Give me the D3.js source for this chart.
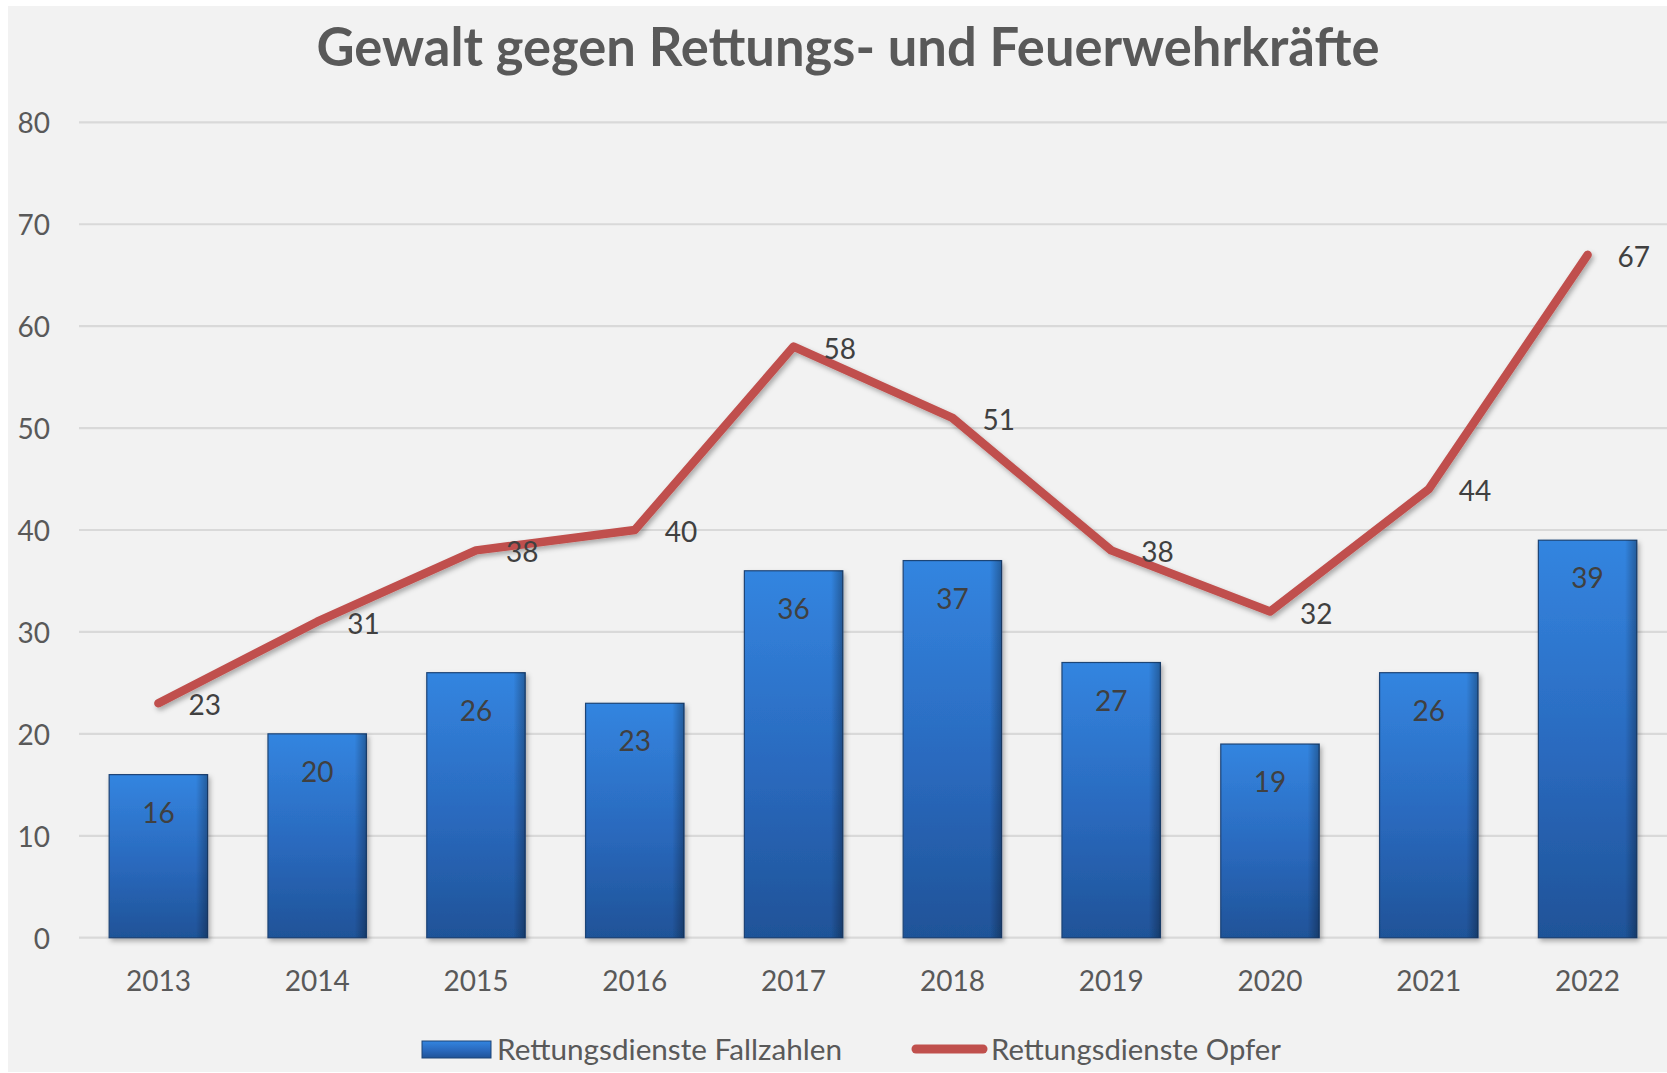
<!DOCTYPE html>
<html>
<head>
<meta charset="utf-8">
<script src="https://cdn.jsdelivr.net/npm/d3@7"></script>
<style>
  body { margin: 0; background: #fff; }
  svg text { font-family: Lato, "Open Sans", sans-serif; }
</style>
</head>
<body>
<div id="vis"></div>
<script>
// Data
var years = ["2013", "2014", "2015", "2016", "2017", "2018", "2019", "2020", "2021", "2022"];
var fallzahlen = [16, 20, 26, 23, 36, 37, 27, 19, 26, 39];
var opfer = [23, 31, 38, 40, 58, 51, 38, 32, 44, 67];
var yTicks = [0, 10, 20, 30, 40, 50, 60, 70, 80];
var seriesNames = ["Rettungsdienste Fallzahlen", "Rettungsdienste Opfer"];
var chartTitle = "Gewalt gegen Rettungs- und Feuerwehrkräfte";

let svgWidth = 1667, svgHeight = 1073;

let svg = d3.select("#vis").append("svg")
  .attr("width", svgWidth)
  .attr("height", svgHeight);

let defs = svg.append("defs");

// bar gradient (lighter top, darker bottom)
let grad = defs.append("linearGradient")
  .attr("id", "barGrad")
  .attr("x1", 0).attr("y1", 0).attr("x2", 0).attr("y2", 1);
grad.append("stop").attr("offset", "0%").attr("stop-color", "#3385e0");
grad.append("stop").attr("offset", "55%").attr("stop-color", "#2a69bd");
grad.append("stop").attr("offset", "100%").attr("stop-color", "#1f5398");

// side shading for the bevel look
let sideGrad = defs.append("linearGradient")
  .attr("id", "sideGrad")
  .attr("x1", 0).attr("y1", 0).attr("x2", 1).attr("y2", 0);
sideGrad.append("stop").attr("offset", "0%").attr("stop-color", "#000").attr("stop-opacity", 0);
sideGrad.append("stop").attr("offset", "88%").attr("stop-color", "#000").attr("stop-opacity", 0);
sideGrad.append("stop").attr("offset", "100%").attr("stop-color", "#000").attr("stop-opacity", 0.3);

let shadow = defs.append("filter").attr("id", "shadow")
  .attr("x", "-10%").attr("y", "-10%").attr("width", "130%").attr("height", "130%");
shadow.append("feDropShadow")
  .attr("dx", 2).attr("dy", 3).attr("stdDeviation", 2.5)
  .attr("flood-color", "#000").attr("flood-opacity", 0.3);

// background
svg.append("rect").attr("width", svgWidth).attr("height", svgHeight).attr("fill", "#fff");
svg.append("rect")
  .attr("x", 8).attr("y", 6)
  .attr("width", svgWidth - 8).attr("height", svgHeight - 7)
  .attr("fill", "#f2f2f2");

// scales
let x = d3.scaleBand()
  .domain(years)
  .range([79, 1667])
  .paddingInner(0.38)
  .paddingOuter(0.19);

let y = d3.scaleLinear()
  .domain([0, 80])
  .range([937.7, 122.3]);

// gridlines
svg.append("g")
  .selectAll("line")
  .data(yTicks)
  .enter()
  .append("line")
  .attr("x1", 79).attr("x2", 1667)
  .attr("y1", d => y(d)).attr("y2", d => y(d))
  .attr("stroke", "#d9d9d9")
  .attr("stroke-width", 2.2);

// y axis labels
svg.append("g")
  .selectAll("text")
  .data(yTicks)
  .enter()
  .append("text")
  .attr("x", 50)
  .attr("y", d => y(d) + 11)
  .attr("text-anchor", "end")
  .attr("font-size", 28)
  .attr("fill", "#595959")
  .text(d => d);

// x axis labels
svg.append("g")
  .selectAll("text")
  .data(years)
  .enter()
  .append("text")
  .attr("x", d => x(d) + x.bandwidth() / 2)
  .attr("y", 991)
  .attr("text-anchor", "middle")
  .attr("font-size", 28)
  .attr("fill", "#595959")
  .text(d => d);

// bars
let bars = svg.append("g")
  .selectAll("g")
  .data(fallzahlen)
  .enter()
  .append("g");

bars.append("rect")
  .attr("x", (d, i) => x(years[i]))
  .attr("y", d => y(d))
  .attr("width", x.bandwidth())
  .attr("height", d => y(0) - y(d))
  .attr("fill", "url(#barGrad)")
  .attr("stroke", "#1d4476")
  .attr("stroke-width", 1.2)
  .attr("filter", "url(#shadow)");

bars.append("rect")
  .attr("x", (d, i) => x(years[i]))
  .attr("y", d => y(d))
  .attr("width", x.bandwidth())
  .attr("height", d => y(0) - y(d))
  .attr("fill", "url(#sideGrad)");

// bar labels (inside end)
bars.append("text")
  .attr("x", (d, i) => x(years[i]) + x.bandwidth() / 2)
  .attr("y", d => y(d) + 48)
  .attr("text-anchor", "middle")
  .attr("font-size", 28)
  .attr("fill", "#404040")
  .text(d => d);

// line
let line = d3.line()
  .x((d, i) => x(years[i]) + x.bandwidth() / 2)
  .y(d => y(d));

svg.append("path")
  .datum(opfer)
  .attr("d", line)
  .attr("fill", "none")
  .attr("stroke", "#c0504d")
  .attr("stroke-width", 8.5)
  .attr("stroke-linecap", "round")
  .attr("stroke-linejoin", "round")
  .attr("filter", "url(#shadow)");

// line labels (right)
svg.append("g")
  .selectAll("text")
  .data(opfer)
  .enter()
  .append("text")
  .attr("x", (d, i) => x(years[i]) + x.bandwidth() / 2 + 30)
  .attr("y", d => y(d) + 12)
  .attr("font-size", 28)
  .attr("fill", "#404040")
  .text(d => d);

// title
svg.append("text")
  .attr("x", 848)
  .attr("y", 66)
  .attr("text-anchor", "middle")
  .attr("font-size", 53)
  .attr("font-weight", "bold")
  .attr("fill", "#595959")
  .attr("textLength", 1063)
  .attr("lengthAdjust", "spacingAndGlyphs")
  .text(chartTitle);

// legend
let legend = svg.append("g");
legend.append("rect")
  .attr("x", 422).attr("y", 1041)
  .attr("width", 69).attr("height", 17)
  .attr("fill", "url(#barGrad)")
  .attr("stroke", "#1d4476")
  .attr("stroke-width", 1);
legend.append("text")
  .attr("x", 497).attr("y", 1060)
  .attr("font-size", 28)
  .attr("fill", "#595959")
  .attr("textLength", 345)
  .attr("lengthAdjust", "spacingAndGlyphs")
  .text(seriesNames[0]);
legend.append("line")
  .attr("x1", 916).attr("x2", 983)
  .attr("y1", 1049).attr("y2", 1049)
  .attr("stroke", "#c0504d")
  .attr("stroke-width", 9)
  .attr("stroke-linecap", "round");
legend.append("text")
  .attr("x", 991).attr("y", 1060)
  .attr("font-size", 28)
  .attr("fill", "#595959")
  .attr("textLength", 290)
  .attr("lengthAdjust", "spacingAndGlyphs")
  .text(seriesNames[1]);
</script>
</body>
</html>
